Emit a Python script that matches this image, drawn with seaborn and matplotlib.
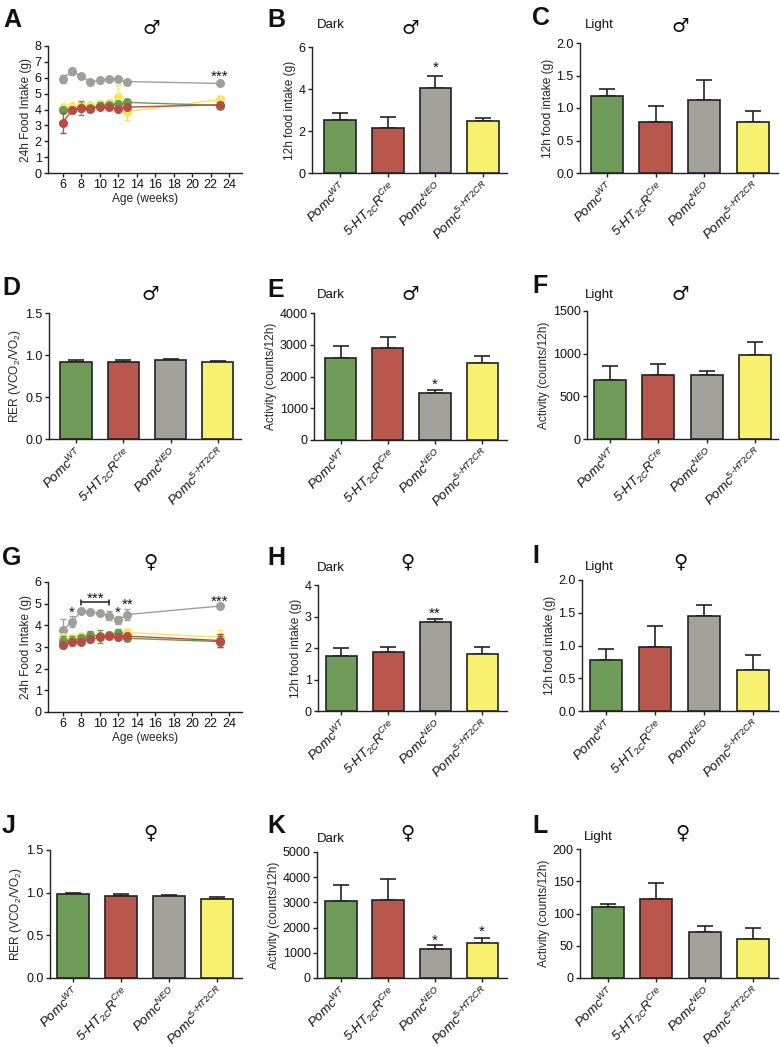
import numpy as np
import pandas as pd
import matplotlib
matplotlib.use("Agg")
import matplotlib.pyplot as plt
import seaborn as sns

# ---------------- data ----------------
groups = ["Pomc$^{WT}$", "5-HT$_{2C}$R$^{Cre}$", "Pomc$^{NEO}$", "Pomc$^{5\u2010HT2CR}$"]
weeks = [6, 7, 8, 9, 10, 11, 12, 13, 23]
age_ticks = [6, 8, 10, 12, 14, 16, 18, 20, 22, 24]

# Panel A (male 24h food intake)
a_wt = [3.95, 4.0, 4.1, 4.1, 4.25, 4.3, 4.35, 4.45, 4.25]
a_wt_err = [0.1, 0.1, 0.45, 0.1, 0.2, 0.1, 0.1, 0.1, 0.15]
a_cre = [3.15, 4.0, 4.07, 4.05, 4.15, 4.15, 4.05, 4.15, 4.3]
a_cre_err = [0.65, 0.1, 0.15, 0.1, 0.1, 0.1, 0.1, 0.1, 0.2]
a_neo = [5.95, 6.4, 6.12, 5.73, 5.85, 5.92, 5.9, 5.76, 5.64]
a_neo_err = [0.25, 0.2, 0.1, 0.08, 0.08, 0.1, 0.1, 0.08, 0.08]
a_r = [4.18, 4.2, 4.28, 4.3, 4.35, 4.38, 4.77, 3.87, 4.63]
a_r_err = [0.1, 0.1, 0.1, 0.1, 0.2, 0.1, 0.75, 0.5, 0.1]

# Panel G (female 24h food intake)
g_wt = [3.3, 3.3, 3.4, 3.55, 3.5, 3.55, 3.65, 3.4, 3.25]
g_wt_err = [0.2, 0.2, 0.15, 0.2, 0.3, 0.15, 0.2, 0.1, 0.25]
g_cre = [3.07, 3.25, 3.25, 3.35, 3.45, 3.5, 3.45, 3.5, 3.3]
g_cre_err = [0.1, 0.1, 0.1, 0.1, 0.1, 0.1, 0.1, 0.1, 0.3]
g_neo = [3.79, 4.17, 4.66, 4.63, 4.55, 4.45, 4.25, 4.5, 4.89]
g_neo_err = [0.5, 0.25, 0.05, 0.05, 0.05, 0.2, 0.2, 0.25, 0.05]
g_r = [3.45, 3.4, 3.5, 3.5, 3.5, 3.55, 3.6, 3.67, 3.45]
g_r_err = [0.15, 0.1, 0.15, 0.1, 0.1, 0.1, 0.1, 0.1, 0.35]

# Bar panels: means and SEM (WT, Cre, NEO, 5-HT2CR)
b_vals = [2.51, 2.14, 4.07, 2.48];  b_err = [0.36, 0.52, 0.57, 0.12]
c_vals = [1.19, 0.78, 1.12, 0.78];  c_err = [0.10, 0.25, 0.31, 0.18]
d_vals = [0.918, 0.918, 0.938, 0.918]; d_err = [0.022, 0.022, 0.016, 0.006]
e_vals = [2590, 2890, 1495, 2420];  e_err = [370, 350, 65, 210]
f_vals = [695, 748, 748, 985];      f_err = [160, 128, 47, 152]
h_vals = [1.75, 1.87, 2.81, 1.80];  h_err = [0.25, 0.16, 0.12, 0.23]
i_vals = [0.78, 0.97, 1.45, 0.63];  i_err = [0.17, 0.33, 0.17, 0.22]
j_vals = [0.986, 0.962, 0.962, 0.92]; j_err = [0.011, 0.024, 0.012, 0.035]
k_vals = [3070, 3110, 1150, 1390];  k_err = [640, 830, 160, 210]
l_vals = [110, 123, 71.5, 60];      l_err = [4, 24, 9, 17]

# significance annotations (x, y, text)
a_sig = [(23, 6.37, "***")]
g_sig = [(7, 4.83, "*"), (9.5, 5.44, "***"), (12, 4.83, "*"), (13, 5.2, "**"), (23, 5.3, "***")]
g_bracket = (8, 11, 5.06)
b_sig = [(2, 5.25, "*")]
e_sig = [(2, 1895, "*")]
h_sig = [(2, 3.24, "**")]
k_sig = [(2, 1693, "*"), (3, 2024, "*")]

# ---------------- style ----------------
W, H = 780, 1047
colors = ["#6f9d59", "#b9574d", "#a3a29a", "#f8f06f"]
line_colors = ["#6a9a52", "#b84c44", "#a0a09a", "#f3e85e"]
edge = "#222222"

sns.set_theme(style="ticks")
plt.rcParams["font.family"] = ["Liberation Sans", "DejaVu Sans"]
plt.rcParams["mathtext.fontset"] = "custom"
plt.rcParams["mathtext.rm"] = "Liberation Sans"
plt.rcParams["mathtext.it"] = "Liberation Sans:italic"
plt.rcParams["mathtext.default"] = "it"
plt.rcParams["axes.linewidth"] = 1.0
plt.rcParams["axes.edgecolor"] = edge

fig = plt.figure(figsize=(W / 100, H / 100), dpi=100)
TFS = 9.0    # tick labels
LFS = 8.6    # axis labels
XFS = 9.5    # rotated group labels


def rect(x0, x1, ytop, ybot):
    return [x0 / W, 1 - ybot / H, (x1 - x0) / W, (ybot - ytop) / H]


def style_axes(ax):
    sns.despine(ax=ax)
    ax.tick_params(direction="out", length=3, width=1, labelsize=TFS, colors=edge,
                   labelcolor="#111111", pad=1.5)


def stars(ax, sig):
    for x, y, t in sig:
        ax.annotate(t, xy=(x, y), xytext=(0, -6.5), textcoords="offset points",
                    ha="center", va="baseline", fontsize=11, color="#111111")


def bar_panel(r, vals, errs, ylim, yticks, ylabel, xlim, sig=None, yfmt=None):
    ax = fig.add_axes(r)
    df = pd.DataFrame({"g": groups, "v": vals})
    sns.barplot(data=df, x="g", y="v", hue="g", palette=colors, legend=False,
                width=0.66, edgecolor=edge, linewidth=1.2, errorbar=None, ax=ax,
                saturation=1, zorder=3)
    ax.errorbar(np.arange(len(vals)), vals, yerr=[np.zeros(len(vals)), errs],
                fmt="none", ecolor=edge, elinewidth=1.2, capsize=6, capthick=1.2,
                zorder=2)
    ax.set_ylim(*ylim)
    ax.set_yticks(yticks)
    if yfmt:
        ax.set_yticklabels([yfmt.format(t) for t in yticks])
    ax.set_xlim(*xlim)
    ax.set_xlabel("")
    ax.set_ylabel(ylabel, fontsize=LFS, labelpad=2)
    style_axes(ax)
    ax.set_xticks(np.arange(len(groups)))
    ax.set_xticklabels(groups, rotation=45, ha="right", rotation_mode="anchor",
                       fontstyle="italic", fontsize=XFS)
    if sig:
        stars(ax, sig)
    return ax


def line_panel(r, series, ylim, yticks, sig=None, bracket=None):
    ax = fig.add_axes(r)
    for (m, e), col in series:
        df = pd.DataFrame({"week": weeks, "v": m})
        ax.errorbar(weeks, m, yerr=e, fmt="none", ecolor=col, elinewidth=1,
                    capsize=2.5, capthick=1)
        sns.lineplot(data=df, x="week", y="v", color=col, marker="o", markersize=6.5,
                     markeredgewidth=0, linewidth=1, errorbar=None, ax=ax)
    ax.set_ylim(*ylim)
    ax.set_yticks(yticks)
    ax.set_xlim(4.4, 25.4)
    ax.set_xticks(age_ticks)
    ax.set_xlabel("Age (weeks)", fontsize=LFS, labelpad=1)
    ax.set_ylabel("24h Food Intake (g)", fontsize=LFS, labelpad=2)
    style_axes(ax)
    if sig:
        stars(ax, sig)
    if bracket:
        x0, x1, y = bracket
        ax.plot([x0, x1], [y, y], color="#222222", lw=1.1)
        ax.plot([x0, x0], [y - 0.1, y + 0.1], color="#222222", lw=1.1)
        ax.plot([x1, x1], [y - 0.1, y + 0.1], color="#222222", lw=1.1)
    return ax


# ---------------- panels ----------------
line_panel(rect(48, 242, 46, 173),
           [((a_neo, a_neo_err), line_colors[2]), ((a_r, a_r_err), line_colors[3]),
            ((a_wt, a_wt_err), line_colors[0]), ((a_cre, a_cre_err), line_colors[1])],
           (0, 8), range(0, 9), sig=a_sig)
line_panel(rect(48, 242, 582, 712),
           [((g_neo, g_neo_err), line_colors[2]), ((g_r, g_r_err), line_colors[3]),
            ((g_wt, g_wt_err), line_colors[0]), ((g_cre, g_cre_err), line_colors[1])],
           (0, 6), range(0, 7), sig=g_sig, bracket=g_bracket)

bar_panel(rect(312, 507, 47, 173), b_vals, b_err, (0, 6), [0, 2, 4, 6],
          "12h food intake (g)", (-0.59, 3.5), sig=b_sig)
bar_panel(rect(580, 778, 43, 173), c_vals, c_err, (0, 2), [0, 0.5, 1, 1.5, 2],
          "12h food intake (g)", (-0.55, 3.51), yfmt="{:.1f}")
bar_panel(rect(49, 241, 313, 439), d_vals, d_err, (0, 1.5), [0, 0.5, 1, 1.5],
          "RER (VCO$_\\mathregular{2}$/VO$_\\mathregular{2}$)", (-0.57, 3.49), yfmt="{:.1f}")
bar_panel(rect(314, 507, 313, 440), e_vals, e_err, (0, 4000), [0, 1000, 2000, 3000, 4000],
          "Activity (counts/12h)", (-0.57, 3.53), sig=e_sig)
bar_panel(rect(587, 778, 311, 439), f_vals, f_err, (0, 1500), [0, 500, 1000, 1500],
          "Activity (counts/12h)", (-0.48, 3.48))
bar_panel(rect(318, 507, 585, 711), h_vals, h_err, (0, 4), [0, 1, 2, 3, 4],
          "12h food intake (g)", (-0.49, 3.53), sig=h_sig)
bar_panel(rect(582, 778, 580, 711), i_vals, i_err, (0, 2), [0, 0.5, 1, 1.5, 2],
          "12h food intake (g)", (-0.49, 3.51), yfmt="{:.1f}")
bar_panel(rect(50, 242, 850, 978), j_vals, j_err, (0, 1.5), [0, 0.5, 1, 1.5],
          "RER (VCO$_\\mathregular{2}$/VO$_\\mathregular{2}$)", (-0.48, 3.52), yfmt="{:.1f}")
bar_panel(rect(317, 507, 852, 978), k_vals, k_err, (0, 5000), [0, 1000, 2000, 3000, 4000, 5000],
          "Activity (counts/12h)", (-0.51, 3.53), sig=k_sig)
bar_panel(rect(580, 778, 849, 978), l_vals, l_err, (0, 200), [0, 50, 100, 150, 200],
          "Activity (counts/12h)", (-0.58, 3.52))

# ---------------- texts ----------------
letters = [("A", 3, 27), ("B", 267, 27), ("C", 532, 25), ("D", 2, 295), ("E", 267, 297),
           ("F", 532, 293), ("G", 2, 565), ("H", 267, 565), ("I", 532, 563),
           ("J", 2, 833), ("K", 267, 833), ("L", 532, 833)]
for t, x, y in letters:
    fig.text(x / W, 1 - y / H, t, fontsize=18, fontweight="bold", ha="left",
             va="baseline", color="#111111")

male, female = "\u2642", "\u2640"
sexes = [(male, 151, 28), (male, 410, 28), (male, 680, 27), (male, 150, 295),
         (male, 410, 295), (male, 680, 295), (female, 150, 562), (female, 407, 562),
         (female, 680, 562), (female, 150, 833), (female, 407, 833), (female, 682, 833)]
for t, x, y in sexes:
    fig.text(x / W, 1 - y / H, t, fontsize=14, ha="center", va="center",
             family=["DejaVu Sans"], color="#111111")

phases = [("Dark", 317, 25), ("Light", 585, 25), ("Dark", 317, 295), ("Light", 585, 295),
          ("Dark", 317, 568), ("Light", 585, 567), ("Dark", 317, 839), ("Light", 584, 837)]
for t, x, y in phases:
    fig.text(x / W, 1 - y / H, t, fontsize=9.5, ha="left", va="center", color="#111111")

fig.savefig("out.png", dpi=100)
